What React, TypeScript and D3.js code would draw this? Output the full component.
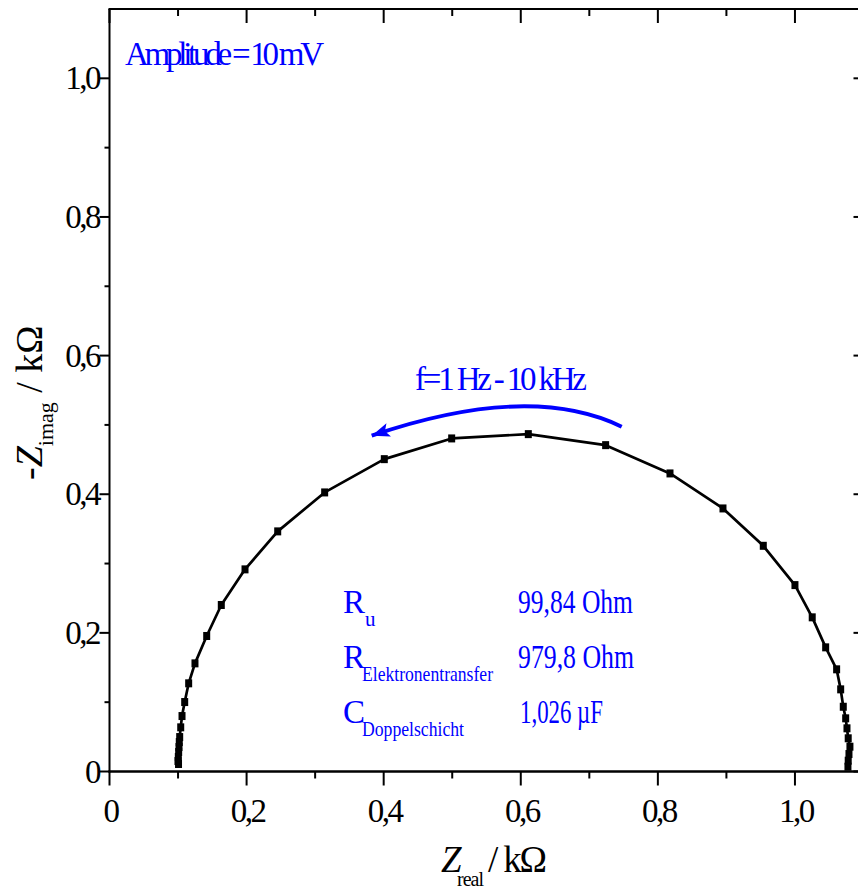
import { useEffect, useRef } from 'react';
import * as d3 from 'd3';

// Nyquist data (kOhm), from 1 Hz (right) to 10 kHz (left)
const zReal = [
  1.0773, 1.0777, 1.0788, 1.0802, 1.0777, 1.0759, 1.074, 1.0705, 1.0667, 1.0608,
  1.0448, 1.0252, 1.0, 0.9538, 0.895, 0.8177, 0.7238, 0.611, 0.4992, 0.4009,
  0.3139, 0.2454, 0.1977, 0.1631, 0.1418, 0.1247, 0.1155, 0.1097, 0.1058, 0.1039,
  0.1024, 0.1018, 0.1014, 0.1009, 0.1004, 0.0999, 0.1007
];
const zImag = [
  0.0069, 0.0156, 0.0252, 0.0358, 0.0479, 0.0623, 0.0767, 0.0934, 0.1185, 0.1474,
  0.1791, 0.2224, 0.2689, 0.3256, 0.3795, 0.43, 0.4708, 0.4867, 0.4805, 0.4506,
  0.4026, 0.3464, 0.2916, 0.2402, 0.1955, 0.156, 0.1272, 0.1002, 0.08, 0.0637,
  0.0497, 0.0425, 0.0353, 0.0281, 0.0209, 0.0151, 0.0108
];

const majorTicks = [0, 0.2, 0.4, 0.6, 0.8, 1.0];
const minorTicks = [0.1, 0.3, 0.5, 0.7, 0.9];
const tickLabels = ['0', '0,2', '0,4', '0,6', '0,8', '1,0'];

const fitLabels = ['R', 'R', 'C'];
const fitSubs = ['u', 'Elektronentransfer', 'Doppelschicht'];
const fitValues = ['99,84 Ohm', '979,8 Ohm', '1,026 µF'];

const WIDTH = 858;
const HEIGHT = 892;
const FONT = '"Liberation Serif", "Times New Roman", serif';
const BLUE = '#0000ff';

export default function App() {
  const svgRef = useRef<SVGSVGElement>(null);

  useEffect(() => {
    if (!svgRef.current) return;
    const svg = d3.select(svgRef.current);
    svg.selectAll('*').remove();

    const x = d3.scaleLinear().domain([0, 1.1]).range([109.5, 863.5]);
    const y = d3.scaleLinear().domain([0, 1.1]).range([771.5, 9]);
    const [x0, x1] = x.range();
    const [y0, y1] = y.range();

    // frame
    const frame = svg.append('g').attr('stroke', '#000').attr('stroke-width', 2);
    frame.append('line').attr('x1', x0).attr('x2', x0).attr('y1', y0 + 1).attr('y2', y1);
    frame.append('line').attr('x1', x0 - 1).attr('x2', x1).attr('y1', y0).attr('y2', y0).attr('stroke-width', 2.5);
    frame.append('line').attr('x1', x0 - 1).attr('x2', x1).attr('y1', y1).attr('y2', y1);
    frame.append('line').attr('x1', x1).attr('x2', x1).attr('y1', y0).attr('y2', y1);

    // ticks: bottom + left outward, top + right inward
    const ticks = svg.append('g').attr('stroke', '#000').attr('stroke-width', 2);
    majorTicks.concat(minorTicks).forEach(v => {
      const major = majorTicks.includes(v);
      const lx = major ? 14 : 7;
      const ly = major ? 10 : 5;
      ticks.append('line').attr('x1', x(v)).attr('x2', x(v)).attr('y1', y0).attr('y2', y0 + lx);
      ticks.append('line').attr('x1', x(v)).attr('x2', x(v)).attr('y1', y1).attr('y2', y1 + lx);
      ticks.append('line').attr('x1', x0).attr('x2', x0 - ly).attr('y1', y(v)).attr('y2', y(v));
      ticks.append('line').attr('x1', x1).attr('x2', x1 - ly).attr('y1', y(v)).attr('y2', y(v));
    });

    // tick labels
    majorTicks.forEach((v, i) => {
      svg.append('text')
        .attr('x', x(v) + 1)
        .attr('y', y0 + 50)
        .attr('text-anchor', 'middle')
        .attr('font-family', FONT)
        .attr('font-size', 33)
        .attr('letter-spacing', -2.5)
        .text(tickLabels[i]);
      svg.append('text')
        .attr('x', 99)
        .attr('y', y(v) + 11)
        .attr('text-anchor', 'end')
        .attr('font-family', FONT)
        .attr('font-size', 33)
        .attr('letter-spacing', -2.5)
        .text(tickLabels[i]);
    });

    // x axis title
    const xt = svg.append('g').attr('font-family', FONT);
    xt.append('text').attr('x', 441).attr('y', 871.5).attr('font-size', 37)
      .attr('font-style', 'italic').text('Z');
    xt.append('text').attr('x', 457).attr('y', 886).attr('font-size', 20)
      .attr('textLength', 27).attr('lengthAdjust', 'spacing').text('real');
    xt.append('text').attr('x', 488).attr('y', 871.5).attr('font-size', 37)
      .attr('textLength', 59).attr('lengthAdjust', 'spacing').text('/ kΩ');

    // y axis title
    const yt = svg.append('text')
      .attr('transform', 'translate(42,480) rotate(-90)')
      .attr('font-family', FONT)
      .attr('font-size', 38);
    yt.append('tspan').text('-');
    yt.append('tspan').attr('font-style', 'italic').text('Z');
    yt.append('tspan').attr('font-size', 22).attr('dy', 11).text('imag');
    yt.append('tspan').attr('dy', -11).text(' / kΩ');

    // curve
    const pts = zReal.map((r, i) => [r, zImag[i]] as [number, number]);
    const line = d3.line<[number, number]>().x(d => x(d[0])).y(d => y(d[1]));
    svg.append('path')
      .datum(pts)
      .attr('d', line)
      .attr('fill', 'none')
      .attr('stroke', '#000')
      .attr('stroke-width', 2.7)
      .attr('stroke-linejoin', 'round');
    svg.append('g').selectAll('rect')
      .data(pts)
      .join('rect')
      .attr('x', d => x(d[0]) - 3.5)
      .attr('y', d => y(d[1]) - 4)
      .attr('width', 7)
      .attr('height', 8)
      .attr('fill', '#000');

    // frequency arrow (drawn in data coordinates)
    const defs = svg.append('defs');
    defs.append('marker')
      .attr('id', 'head')
      .attr('markerUnits', 'userSpaceOnUse')
      .attr('markerWidth', 24)
      .attr('markerHeight', 20)
      .attr('viewBox', '-2 -10 24 20')
      .attr('refX', 18)
      .attr('refY', 0)
      .attr('orient', 'auto')
      .append('path')
      .attr('d', 'M0,-7 L18,0 L0,7 L4,0 Z')
      .attr('fill', BLUE);
    const p = d3.path();
    p.moveTo(x(0.7472), y(0.4974));
    p.quadraticCurveTo(x(0.6124), y(0.5622), x(0.3825), y(0.4844));
    svg.append('path')
      .attr('d', p.toString())
      .attr('fill', 'none')
      .attr('stroke', BLUE)
      .attr('stroke-width', 4)
      .attr('marker-end', 'url(#head)');

    const ann = svg.append('g').attr('font-family', FONT).attr('fill', BLUE);
    ann.append('text').attr('x', 415).attr('y', 390).attr('font-size', 33)
      .attr('textLength', 172).attr('lengthAdjust', 'spacing').text('f=1 Hz - 10 kHz');
    ann.append('text').attr('x', 125).attr('y', 65).attr('font-size', 33)
      .attr('textLength', 199).attr('lengthAdjust', 'spacing').text('Amplitude = 10 mV');

    // fit results
    const subLen = [10, 131, 102];
    const valLen = [115, 116, 83];
    fitLabels.forEach((lab, i) => {
      const base = 613 + i * 55;
      ann.append('text').attr('x', 343).attr('y', base).attr('font-size', 33).text(lab);
      ann.append('text').attr('x', i === 0 ? 365 : 362).attr('y', base + 12.5).attr('font-size', 21)
        .attr('textLength', subLen[i]).attr('lengthAdjust', i === 0 ? 'spacing' : 'spacingAndGlyphs')
        .text(fitSubs[i]);
      ann.append('text').attr('x', i === 2 ? 520 : 518).attr('y', base).attr('font-size', 33)
        .attr('textLength', valLen[i]).attr('lengthAdjust', 'spacingAndGlyphs').text(fitValues[i]);
    });
  }, []);

  return (
    <svg
      ref={svgRef}
      width={WIDTH}
      height={HEIGHT}
      style={{ position: 'absolute', left: 0, top: 0, background: '#fff' }}
    />
  );
}
